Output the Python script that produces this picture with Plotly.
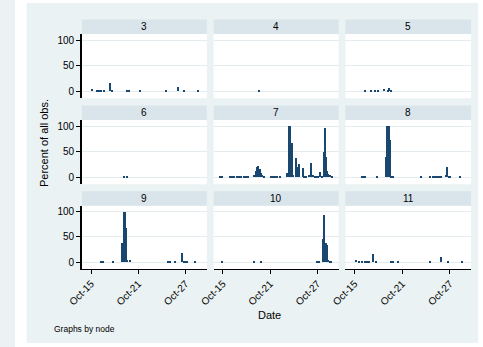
import pandas as pd
import plotly.graph_objects as go

# ---- data: percent of all observations per time bin, by node ----
START = pd.Timestamp("2012-10-15")
nodes = [3, 4, 5, 6, 7, 8, 9, 10, 11]

# days after Oct-15 00:00 for each bin centre, and bar heights (percent)
node3_days = [0.16, 0.73, 1.0, 1.3, 1.6, 2.33, 2.6, 4.5, 4.8, 6.2, 9.5, 11.0, 11.8, 13.5]
node3_pct = [4, 2.5, 2.5, 2.5, 2.5, 16, 3, 2.5, 2.5, 2.5, 2.5, 9, 3, 2.5]

node4_days = [4.6]
node4_pct = [3]

node5_days = [1.3, 2.1, 2.6, 3.0, 3.8, 4.2, 4.4, 4.6]
node5_pct = [2.5, 2.5, 2.5, 2.5, 4, 2.5, 6, 3]

node6_days = [4.1, 4.5]
node6_pct = [2.5, 2.5]

node7_days = [-0.35, -0.15, 0.86, 1.15, 1.43, 1.72, 2.0, 2.3, 2.58, 2.9, 3.2,
              3.92, 4.11, 4.24, 4.44, 4.65, 4.77, 4.97, 5.14,
              6.0, 6.3, 6.55, 6.85, 7.15,
              8.11, 8.32, 8.48, 8.66, 8.82,
              9.22, 9.5, 9.67, 10.07, 10.3, 10.56, 10.9, 11.17, 11.38, 11.62,
              11.87, 12.03, 12.28, 12.52, 12.73, 12.87, 13.02, 13.17, 13.34,
              13.54, 13.75]
node7_pct = [2.5, 2.5, 2.5, 2.5, 2.5, 2.5, 2.5, 2.5, 2.5, 2.5, 2.5,
             5, 12, 20, 22, 17, 9, 5, 3,
             2.5, 2.5, 2.5, 2.5, 2.5,
             8, 101, 100, 68, 4,
             37, 21, 26, 18, 3, 2.5, 4, 29, 5, 2.5,
             2.5, 3, 11, 3, 49, 97, 39, 12, 6,
             4, 2.5]

node8_days = [0.93, 1.15, 1.35, 2.9, 4.01, 4.18, 4.34, 4.5, 4.66, 4.93, 8.36,
              9.6, 9.88, 10.15, 10.43, 10.7, 10.98, 11.55, 11.7, 11.9, 12.05, 13.3]
node8_pct = [2.5, 2.5, 2.5, 2.5, 39, 101, 101, 72, 3, 2.5, 2.5,
             2.5, 2.5, 2.5, 2.5, 2.5, 2.5, 5, 20, 3, 3, 2.5]

node9_days = [1.2, 1.45, 2.77, 3.95, 4.12, 4.28, 4.44, 4.6, 4.93,
              9.7, 9.95, 10.65, 11.54, 11.75, 11.95, 12.12, 13.2]
node9_pct = [2.5, 2.5, 2.5, 39, 101, 101, 69, 4, 5,
             2.5, 2.5, 2.5, 19, 3, 3, 2.5, 2.5]

node10_days = [-0.17, 3.95, 4.77, 11.9, 12.15, 12.6, 12.8, 13.0, 13.17, 13.34, 13.54, 13.7]
node10_pct = [2.5, 2.5, 2.5, 2.5, 2.5, 47, 95, 38, 34, 5, 3, 3]

node11_days = [0.27, 0.61, 1.02, 1.3, 1.59, 1.84, 2.36, 2.79, 4.6, 4.9, 5.55,
               9.6, 11.0, 11.8, 13.6]
node11_pct = [5, 2.5, 2.5, 2.5, 3, 2.5, 17, 2.5, 2.5, 2.5, 2.5,
              2.5, 10, 3, 2.5]

series_days = [node3_days, node4_days, node5_days, node6_days, node7_days,
               node8_days, node9_days, node10_days, node11_days]
series_pct = [node3_pct, node4_pct, node5_pct, node6_pct, node7_pct,
              node8_pct, node9_pct, node10_pct, node11_pct]

tick_days = [0, 6, 12]
tick_labels = ["Oct-15", "Oct-21", "Oct-27"]
y_ticks = [0, 50, 100]

# ---- layout geometry (pixels) ----
W, H = 483, 347
col_px = [(69, 198), (205, 334), (341, 470.7)]
row_plot_px = [(34, 98.3), (120, 184.3), (205.7, 269)]
row_head_px = [(19.5, 34), (105.5, 120), (191.2, 205.7)]

BAR = "#1A476F"
BG = "#EAF2F3"
STRIP = "#D9E5EB"
GRID = "#E4ECEF"
FONT = "Liberation Sans, Arial, sans-serif"

def px_x(v):
    return v / W

def px_y(v):
    return 1 - v / H

def day_ts(d):
    return START + pd.Timedelta(days=d)

bin_ms = 0.13 * 86400000
x_range = [day_ts(-1.17).isoformat(), day_ts(14.68).isoformat()]

fig = go.Figure()
layout = {}
shapes = []
annotations = []

for i, node in enumerate(nodes):
    r, c = divmod(i, 3)
    idx = "" if i == 0 else str(i + 1)
    xa, ya = "x" + idx, "y" + idx

    fig.add_trace(go.Bar(
        x=[day_ts(d) for d in series_days[i]],
        y=series_pct[i],
        width=bin_ms,
        marker=dict(color=BAR, line=dict(width=0)),
        xaxis=xa, yaxis=ya, showlegend=False,
        hoverinfo="skip",
    ))

    x0, x1 = col_px[c]
    y0, y1 = row_plot_px[r]
    bottom = r == 2
    left = c == 0

    layout["xaxis" + idx] = dict(
        domain=[px_x(x0), px_x(x1)],
        anchor=ya,
        type="date",
        range=x_range,
        showgrid=False,
        zeroline=False,
        tickvals=[day_ts(d) for d in tick_days],
        ticktext=tick_labels,
        showticklabels=bottom,
        ticks="outside" if bottom else "",
        ticklen=4, tickwidth=1, tickcolor="black",
        tickangle=-45,
        tickfont=dict(size=10, color="black", family=FONT),
        showline=bottom, linecolor="black", linewidth=1.3,
    )
    layout["yaxis" + idx] = dict(
        domain=[px_y(y1), px_y(y0)],
        anchor=xa,
        range=[-13.5, 112],
        tickvals=y_ticks,
        showgrid=True, gridcolor=GRID, gridwidth=1,
        zeroline=False,
        showticklabels=left,
        ticks="outside" if left else "",
        ticklen=4, tickwidth=1, tickcolor="black",
        tickfont=dict(size=10, color="black", family=FONT),
        showline=left, linecolor="black", linewidth=1.5,
    )

    hy0, hy1 = row_head_px[r]
    shapes.append(dict(
        type="rect", xref="paper", yref="paper",
        x0=px_x(x0), x1=px_x(x1), y0=px_y(hy1), y1=px_y(hy0),
        fillcolor=STRIP, line=dict(width=0), layer="above",
    ))
    annotations.append(dict(
        text=str(node), xref="paper", yref="paper",
        x=px_x((x0 + x1) / 2), y=px_y((hy0 + hy1) / 2),
        xanchor="center", yanchor="middle", showarrow=False,
        font=dict(size=10, color="black", family=FONT),
    ))

# white frame around the graph region
for (a0, a1, b0, b1) in [(0, 12, 0, H), (478, W, 0, H), (0, W, 0, 3), (0, W, 343, H)]:
    shapes.append(dict(
        type="rect", xref="paper", yref="paper",
        x0=px_x(a0), x1=px_x(a1), y0=px_y(b1), y1=px_y(b0),
        fillcolor="white", line=dict(width=0), layer="above",
    ))

annotations += [
    dict(text="Percent of all obs.", xref="paper", yref="paper",
         x=px_x(30), y=px_y(143), textangle=-90, showarrow=False,
         xanchor="center", yanchor="middle",
         font=dict(size=11, color="black", family=FONT)),
    dict(text="Date", xref="paper", yref="paper",
         x=px_x(263), y=px_y(315), showarrow=False,
         xanchor="center", yanchor="middle",
         font=dict(size=11, color="black", family=FONT)),
    dict(text="Graphs by node", xref="paper", yref="paper",
         x=px_x(38), y=px_y(329), showarrow=False,
         xanchor="left", yanchor="middle",
         font=dict(size=8.5, color="black", family=FONT)),
]

fig.update_layout(
    width=W, height=H,
    margin=dict(l=0, r=0, t=0, b=0),
    paper_bgcolor=BG,
    plot_bgcolor="white",
    bargap=0,
    shapes=shapes,
    annotations=annotations,
    font=dict(family=FONT),
    **layout,
)

fig.write_html("out.html")
